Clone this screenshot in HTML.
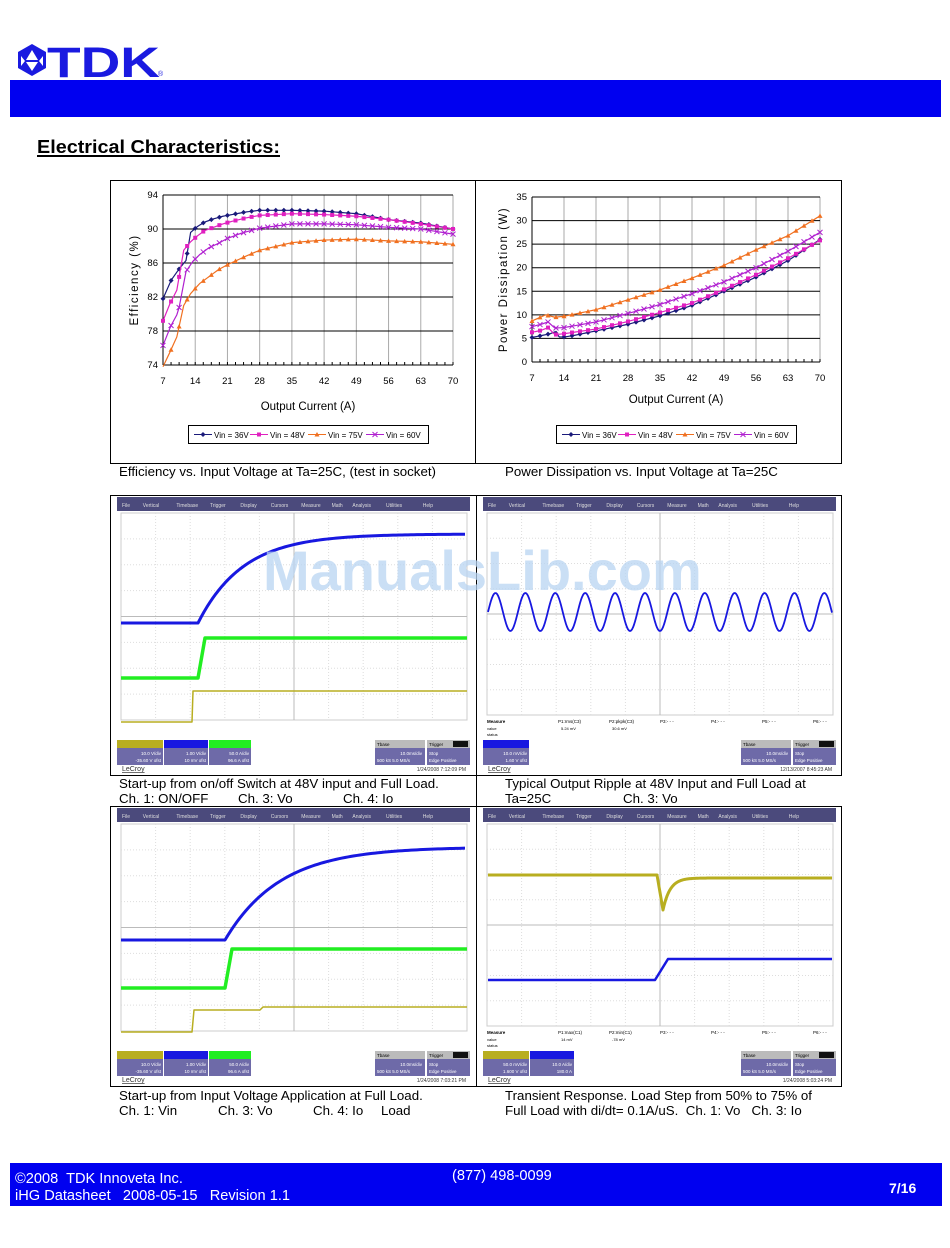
<!DOCTYPE html>
<html><head><meta charset="utf-8">
<style>
html,body{margin:0;padding:0;background:#fff;}
body{width:950px;height:1248px;position:relative;overflow:hidden;font-family:"Liberation Sans",Arial,sans-serif;}
.abs{position:absolute;}
text.cap{font-size:13.3px;white-space:pre;}
text.ft{font-size:14.6px;white-space:pre;}
</style></head>
<body>
<svg id="s" class="abs" style="left:0;top:0" width="950" height="1248" xmlns="http://www.w3.org/2000/svg" font-family="Liberation Sans, Arial, sans-serif">
<g fill="#1a1ae0">
<polygon points="32,44 46,52 46,68 32,76 18,68 18,52"/>
</g>
<g fill="#fff">
<polygon points="32,50 38,60 26,60"/>
<polygon points="26,62 38,62 32,71"/>
<polygon points="21,56 25,61 21,66"/>
<polygon points="43,56 39,61 43,66"/>
</g>
<text x="47" y="77" font-size="43" font-weight="bold" fill="#1a1ae0" textLength="113" lengthAdjust="spacingAndGlyphs">TDK</text>
<text x="158" y="76" font-size="7" fill="#1a1ae0">®</text>
<rect x="10" y="80" width="931" height="37" fill="#0000f0"/>
<text x="37" y="153" font-size="18" font-weight="bold" fill="#000" textLength="243" lengthAdjust="spacingAndGlyphs">Electrical Characteristics:</text>
<rect x="37" y="155" width="243" height="2" fill="#000"/>

<rect x="110.5" y="180.5" width="731" height="283" fill="none" stroke="#000"/>
<line x1="475.5" y1="180" x2="475.5" y2="464" stroke="#000"/>
<g id="c1"></g><g id="c2"></g>
<text class="cap" x="119" y="476">Efficiency vs. Input Voltage at Ta=25C, (test in socket)</text>
<text class="cap" x="505" y="476">Power Dissipation vs. Input Voltage at Ta=25C</text>

<rect x="110.5" y="495.5" width="731" height="280" fill="none" stroke="#000"/>
<rect x="110.5" y="806.5" width="731" height="280" fill="none" stroke="#000"/>
<line x1="476.5" y1="495" x2="476.5" y2="1087" stroke="#000"/>
<g id="sc"></g>
<text x="263" y="590" font-size="56" font-weight="bold" fill="#b8d4f2" fill-opacity="0.75">ManualsLib.com</text>

<text class="cap" x="119" y="788">Start-up from on/off Switch at 48V input and Full Load.</text>
<text class="cap" x="119" y="803">Ch. 1: ON/OFF</text><text class="cap" x="238" y="803">Ch. 3: Vo</text><text class="cap" x="343" y="803">Ch. 4: Io</text>
<text class="cap" x="505" y="788">Typical Output Ripple at 48V Input and Full Load at</text>
<text class="cap" x="505" y="803">Ta=25C</text><text class="cap" x="623" y="803">Ch. 3: Vo</text>
<text class="cap" x="119" y="1100">Start-up from Input Voltage Application at Full Load.</text>
<text class="cap" x="119" y="1115">Ch. 1: Vin</text><text class="cap" x="218" y="1115">Ch. 3: Vo</text><text class="cap" x="313" y="1115">Ch. 4: Io</text><text class="cap" x="381" y="1115">Load</text>
<text class="cap" x="505" y="1100">Transient Response. Load Step from 50% to 75% of</text>
<text class="cap" x="505" y="1115">Full Load with di/dt= 0.1A/uS.  Ch. 1: Vo   Ch. 3: Io</text>

<rect x="10" y="1163" width="932" height="43" fill="#0000f0"/>
<text class="ft" x="15" y="1183" fill="#fff">©2008  TDK Innoveta Inc.</text>
<text class="ft" x="15" y="1200" fill="#fff">iHG Datasheet   2008-05-15   Revision 1.1</text>
<text class="ft" x="452" y="1180" fill="#fff">(877) 498-0099</text>
<text x="889" y="1193" font-size="14" font-weight="bold" fill="#fff">7/16</text>
</svg>
<script>
var NS="http://www.w3.org/2000/svg";
function el(p,t,a,txt){var e=document.createElementNS(NS,t);for(var k in a)e.setAttribute(k,a[k]);if(txt!=null)e.textContent=txt;p.appendChild(e);return e;}
function interp(d,x){for(var i=0;i<d.length-1;i++){if(x<=d[i+1][0]){var t=(x-d[i][0])/(d[i+1][0]-d[i][0]);return d[i][1]+t*(d[i+1][1]-d[i][1]);}}return d[d.length-1][1];}
function marker(g,type,x,y,c){
 if(type==0)el(g,'polygon',{points:(x)+','+(y-2.5)+' '+(x+2.5)+','+y+' '+x+','+(y+2.5)+' '+(x-2.5)+','+y,fill:c});
 else if(type==1)el(g,'rect',{x:x-2,y:y-2,width:4,height:4,fill:c});
 else if(type==2)el(g,'polygon',{points:x+','+(y-2.5)+' '+(x+2.5)+','+(y+2)+' '+(x-2.5)+','+(y+2),fill:c});
 else {el(g,'path',{d:'M'+(x-2.5)+' '+(y-2.5)+'L'+(x+2.5)+' '+(y+2.5)+'M'+(x+2.5)+' '+(y-2.5)+'L'+(x-2.5)+' '+(y+2.5),stroke:c,'stroke-width':1});}
}
var cols=['#1a1a7a','#e020c0','#f07020','#b020d0'];
function chart(g,o){
 var X=function(v){return o.x0+(v-7)/63*(o.x1-o.x0)}, Y=function(v){return o.y1-(v-o.ymin)/(o.ymax-o.ymin)*(o.y1-o.y0)};
 for(var v=7;v<=70;v+=7){if(v>7)el(g,'line',{x1:X(v),y1:o.y0,x2:X(v),y2:o.y1,stroke:'#aaa'});el(g,'text',{x:X(v),y:o.y1+19,'font-size':9.5,'text-anchor':'middle'},v);}
 for(var v=o.ymin;v<=o.ymax;v+=o.ys){el(g,'line',{x1:o.x0,y1:Y(v),x2:o.x1,y2:Y(v),stroke:'#000'});el(g,'text',{x:o.x0-5,y:Y(v)+3,'font-size':9.5,'text-anchor':'end'},v);}
 el(g,'line',{x1:o.x0,y1:o.y0,x2:o.x0,y2:o.y1,stroke:'#000'});
 for(var v=7;v<=70;v+=1.75)el(g,'line',{x1:X(v),y1:o.y1,x2:X(v),y2:o.y1-3,stroke:'#000'});
 o.data.forEach(function(d,i){var pts=[];for(var v=7;v<=70.01;v+=0.5)pts.push(X(v)+','+Y(interp(d,v)));
  el(g,'polyline',{points:pts.join(' '),fill:'none',stroke:cols[i],'stroke-width':1.2});
  for(var v=7;v<=70.01;v+=1.75){var yy=interp(d,v);if(yy>=o.ymin)marker(g,i,X(v),Y(yy),cols[i]);}});
 el(g,'text',{x:(o.x0+o.x1)/2,y:o.y1+45-(o.tyo||0),'font-size':11.5,'text-anchor':'middle'},'Output Current (A)');
 var cx=o.yt, cy=(o.y0+o.y1)/2;el(g,'text',{x:cx,y:cy,'font-size':11.5,'text-anchor':'middle','letter-spacing':1.5,transform:'rotate(-90 '+cx+' '+cy+')'},o.ylab);
 var lx=o.lx,ly=425;el(g,'rect',{x:lx+.5,y:ly+.5,width:240,height:18,fill:'#fff',stroke:'#000'});
 var labs=['Vin = 36V','Vin = 48V','Vin = 75V','Vin = 60V'],off=[6,62,120,178];
 labs.forEach(function(l,i){var a=lx+off[i];el(g,'line',{x1:a,y1:ly+9.5,x2:a+18,y2:ly+9.5,stroke:cols[i]});marker(g,i,a+9,ly+9.5,cols[i]);el(g,'text',{x:a+20,y:ly+13,'font-size':8},l);});
}
chart(document.getElementById('c1'),{x0:163,x1:453,y0:195,y1:365,ymin:74,ymax:94,ys:4,yt:138,ylab:'Efficiency (%)',lx:188,data:[
[[7,81.8],[8.8,84],[10.5,85.3],[12,86.3],[13,89.6],[14.5,90.3],[16,90.8],[18,91.2],[20,91.5],[22,91.7],[25,92],[28,92.2],[35,92.2],[42,92.1],[49,91.8],[56,91.1],[63,90.7],[70,90]],
[[7,79.2],[8.5,81.2],[10,82.8],[11.5,87.5],[13,88.5],[14.5,89.2],[16,89.8],[20,90.6],[22,90.9],[25,91.3],[28,91.6],[35,91.8],[42,91.7],[49,91.5],[56,91.1],[63,90.6],[70,90]],
[[7,73.8],[8.5,75.5],[10,77.3],[11.5,81],[13,82.4],[15,83.6],[17,84.4],[19,85.2],[21,85.8],[23,86.3],[25,86.8],[28,87.5],[35,88.4],[42,88.7],[49,88.8],[56,88.6],[63,88.5],[70,88.2]],
[[7,76.3],[8.7,78.6],[10.3,80.2],[12,85],[13.5,86.2],[15,87],[17,87.8],[19,88.3],[21,88.9],[24,89.5],[28,90.1],[35,90.6],[42,90.6],[49,90.5],[56,90.2],[63,90],[70,89.4]]]});
chart(document.getElementById('c2'),{x0:532,x1:820,y0:197,y1:362,ymin:0,ymax:35,ys:5,yt:507,ylab:'Power Dissipation (W)',lx:556,tyo:4,data:[
[[7,5.2],[9,5.6],[11,6],[12,6.4],[13,5.3],[14,5.3],[16,5.6],[21,6.6],[28,8],[35,9.8],[42,12],[49,15],[56,18],[63,21.5],[70,26]],
[[7,6.3],[9,6.7],[10.5,7.3],[12,5.8],[14,6],[21,7],[28,8.6],[35,10.5],[42,12.5],[49,15.4],[56,18.5],[63,22],[70,25.8]],
[[7,8.7],[10,10],[12,9.5],[14,9.7],[21,11.1],[28,13.2],[35,15.3],[42,17.8],[49,20.5],[56,23.8],[63,26.8],[70,31]],
[[7,7.5],[9,8],[10.5,8.5],[12,7.2],[14,7.3],[21,8.5],[28,10.3],[35,12.2],[42,14.5],[49,17],[56,20],[63,23.5],[70,27.5]]]});

var sc=document.getElementById('sc');
function scope(x0,y0,meas,date,traces,chBoxes){
 var W=353,gx0=x0+4,gx1=x0+350,gy0=y0+16,gy1=y0+(meas?218:223);
 el(sc,'rect',{x:x0,y:y0,width:W,height:14,fill:'#4b4a7c'});
 var menu=['File','Vertical','Timebase','Trigger','Display','Cursors','Measure','Math','Analysis','Utilities','Help'],mx=x0+5;
 menu.forEach(function(m){el(sc,'text',{x:mx,y:y0+10,'font-size':5,fill:'#ddd'},m);mx+=m.length*3.2+8;});
 el(sc,'rect',{x:gx0,y:gy0,width:gx1-gx0,height:gy1-gy0,fill:'#fff',stroke:'#ccc'});
 for(var i=1;i<10;i++){var xx=gx0+i*(gx1-gx0)/10;el(sc,'line',{x1:xx,y1:gy0,x2:xx,y2:gy1,stroke:i==5?'#bbb':'#ddd','stroke-dasharray':i==5?'none':'1,2'});}
 for(var i=1;i<8;i++){var yy=gy0+i*(gy1-gy0)/8;el(sc,'line',{x1:gx0,y1:yy,x2:gx1,y2:yy,stroke:i==4?'#bbb':'#ddd','stroke-dasharray':i==4?'none':'1,2'});}
 traces.forEach(function(t){el(sc,'path',{d:t.d,fill:'none',stroke:t.c,'stroke-width':t.w,'stroke-linejoin':'round'});});
 if(meas){var my=y0+224;el(sc,'text',{x:x0+4,y:my+2,'font-size':4.5,'font-weight':'bold'},'Measure');el(sc,'text',{x:x0+4,y:my+9,'font-size':4},'value');el(sc,'text',{x:x0+4,y:my+15,'font-size':4},'status');
  meas.forEach(function(m,i){el(sc,'text',{x:x0+75+i*51,y:my+2,'font-size':4.5},m[0]);if(m[1])el(sc,'text',{x:x0+78+i*51,y:my+9,'font-size':4},m[1]);});}
 var by=y0+243;
 chBoxes.forEach(function(b){el(sc,'rect',{x:x0+b[0],y:by,width:b[1],height:25,fill:'#6e6aa8'});el(sc,'rect',{x:x0+b[0],y:by,width:b[1],height:8,fill:b[2]});el(sc,'text',{x:x0+b[0]+b[1]-2,y:by+15,'font-size':4.5,fill:'#fff','text-anchor':'end'},b[3]);el(sc,'text',{x:x0+b[0]+b[1]-2,y:by+22,'font-size':4.5,fill:'#fff','text-anchor':'end'},b[4]);});
 el(sc,'rect',{x:x0+258,y:by,width:50,height:25,fill:'#6e6aa8'});el(sc,'rect',{x:x0+258,y:by,width:50,height:8,fill:'#bbb'});
 el(sc,'rect',{x:x0+310,y:by,width:43,height:25,fill:'#6e6aa8'});el(sc,'rect',{x:x0+310,y:by,width:43,height:8,fill:'#bbb'});el(sc,'rect',{x:x0+336,y:by+1,width:15,height:6,fill:'#111'});
 el(sc,'text',{x:x0+260,y:by+6,'font-size':4.5},'Tbase');el(sc,'text',{x:x0+312,y:by+6,'font-size':4.5},'Trigger');
 el(sc,'text',{x:x0+305,y:by+15,'font-size':4.5,fill:'#fff','text-anchor':'end'},'10.0ms/div');el(sc,'text',{x:x0+260,y:by+22,'font-size':4.5,fill:'#fff'},'500 kS   5.0 MS/s');
 el(sc,'text',{x:x0+312,y:by+15,'font-size':4.5,fill:'#fff'},'Stop');el(sc,'text',{x:x0+312,y:by+22,'font-size':4.5,fill:'#fff'},'Edge  Positive');
 el(sc,'text',{x:x0+5,y:y0+274,'font-size':7,fill:'#333','text-decoration':'underline'},'LeCroy');
 el(sc,'text',{x:x0+349,y:y0+274,'font-size':5,fill:'#333','text-anchor':'end'},date);
}
function expPath(xa,xb,ys,ye,tau,x0){var d='M'+xa+' '+ys+' L'+x0+' '+ys;for(var x=x0;x<=xb;x+=3)d+=' L'+x+' '+(ye+(ys-ye)*Math.exp(-(x-x0)/tau));return d;}
var B='#1818e0',G='#22ee22',Yl='#b8ae20';
var box1=[[0,46,'#b8ae20','10.0 V/div','-35.60 V ofst'],[47,44,'#1818e0','1.00 V/div','10 mV ofst'],[92,42,'#22ee22','50.0 A/div','96.6 A ofst']];
scope(117,497,null,'1/24/2008 7:12:09 PM',[
 {d:expPath(121,467,623,534,45,198),c:B,w:3},
 {d:'M121 678 L198 678 L205 638 L467 638',c:G,w:3.5},
 {d:'M121 722 L192 722 L193 691 L467 691',c:Yl,w:1.5}],box1);
var sp='M488 612';for(var x=488;x<=832;x+=1)sp+=' L'+x+' '+(612-19*Math.sin((x-488)/29.9*2*Math.PI));
scope(483,497,[['P1:rms(C3)','5.24 mV'],['P2:pkpk(C3)','30.6 mV'],['P3:- - -'],['P4:- - -'],['P5:- - -'],['P6:- - -']],'12/13/2007 8:45:23 AM',[
 {d:sp,c:B,w:1.8}],[[0,46,'#1818e0','10.0 mV/div','1.60 V ofst']]);
scope(117,808,null,'1/24/2008 7:03:21 PM',[
 {d:expPath(121,467,940,847,55,225),c:B,w:3},
 {d:'M121 988 L225 988 L232 949 L467 949',c:G,w:3.5},
 {d:'M121 1032 L192 1032 L194 1010 L260 1010 L263 1007 L467 1007',c:Yl,w:1.5}],box1);
var tr='M488 875 L657 875';for(var x=657;x<=832;x+=1){var y=x<663?875+(x-657)*5.8:878+(910-878)*Math.exp(-(x-663)/7);tr+=' L'+x+' '+y;}
scope(483,808,[['P1:max(C1)','14 mV'],['P2:min(C1)','-78 mV'],['P3:- - -'],['P4:- - -'],['P5:- - -'],['P6:- - -']],'1/24/2008 5:03:24 PM',[
 {d:tr,c:Yl,w:3},{d:'M488 980 L655 980 L668 959 L832 959',c:B,w:2.5}],[[0,46,'#b8ae20','50.0 mV/div','1.600 V ofst'],[47,44,'#1818e0','10.0 A/div','180.0 A']]);
</script>
</body></html>
